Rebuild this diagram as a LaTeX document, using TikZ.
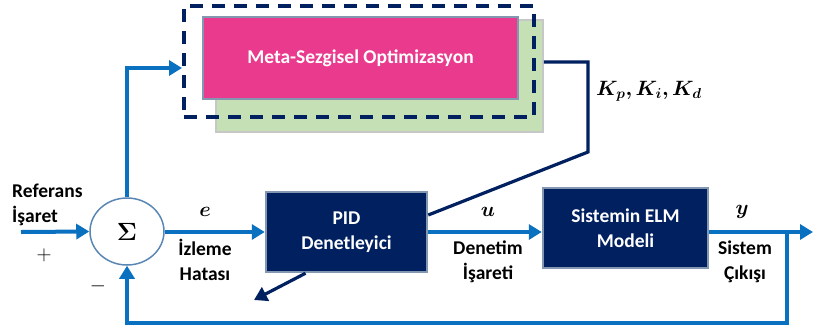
\documentclass[tikz,border=0pt]{standalone}
\usepackage{fontspec}
\usepackage{amsmath,bm}
\setmainfont{Carlito}
\usetikzlibrary{arrows.meta,shapes.geometric}
\definecolor{sigblue}{HTML}{0A70C0}
\definecolor{navy}{HTML}{002060}
\definecolor{rimgray}{HTML}{8497B0}
\definecolor{metapink}{HTML}{EA3A8E}
\definecolor{shadegreen}{HTML}{C5E0B4}
\definecolor{circrim}{HTML}{5A86B4}
\tikzset{
  sig/.style={draw=sigblue, line width=4pt, -{Triangle[length=13pt,width=15pt]}},
  navyline/.style={draw=navy, line width=3.2pt},
  blockbox/.style={rectangle, fill=navy, draw=rimgray, line width=2.5pt, text=white,
    font=\fontsize{19.5}{25}\selectfont\bfseries, align=center},
  lbl/.style={font=\fontsize{19.5}{25}\selectfont\bfseries, text=black, inner sep=0pt},
  mathlbl/.style={font=\fontsize{21}{22}\selectfont, inner sep=0pt},
}
\begin{document}
\begin{tikzpicture}[x=1pt,y=-1pt]
\useasboundingbox (0,0) rectangle (813,332);

% optimisation block with its shadow and dashed frame
\node[rectangle, fill=shadegreen, draw=black!22, line width=1.5pt,
  minimum width=327pt, minimum height=112pt] (green) at (379.5,76) {};
\node[rectangle, fill=metapink, draw=rimgray, line width=2.5pt,
  minimum width=315pt, minimum height=82pt, text=white,
  font=\fontsize{19.5}{24}\selectfont\bfseries] (meta) at (360.5,58) {Meta-Sezgisel Optimizasyon};
\node[rectangle, draw=navy, line width=4pt, dash pattern=on 13pt off 9pt,
  minimum width=350pt, minimum height=111pt] (frame) at (359,61.5) {};

% summing junction
\node[ellipse, draw=circrim, line width=1.5pt, fill=white,
  minimum width=74pt, minimum height=67pt, inner sep=0pt] (sum) at (127,231.5)
  {\fontsize{23}{23}\selectfont$\bm{\Sigma}$};

% controller and plant model
\node[blockbox, minimum width=161pt, minimum height=80pt] (pid) at (346.5,232) {PID\\Denetleyici};
\node[blockbox, minimum width=165pt, minimum height=80pt] (elm) at (625.5,228) {Sistemin ELM\\Modeli};

% helper points
\coordinate (in) at (21,232);
\coordinate (up) at (127,68);
\coordinate (k1) at (588,62);
\coordinate (k2) at (588,152);
\coordinate (fb) at (254,300);
\coordinate (br) at (787,232);
\coordinate (out) at (813,232);
\coordinate (bl) at (127,323);

% signal paths
\draw[sig] (in) -- (sum.west);
\draw[sig] (sum.north) -- (up) -- ([yshift=-6.5pt]frame.west);
\draw[sig] (sum.east |- pid.west) -- (pid.west);
\draw[sig] (pid.east) -- (pid.east -| elm.west);
\draw[sig] (elm.east |- br) -- (out);
\draw[sig] (br) -- (br |- bl) -- (bl) -- (sum.south);

% gain update path
\draw[navyline] (green.east |- k1) -- (k1) -- (k2) -- ([yshift=17pt]pid.east);
\draw[navyline, -{Triangle[length=13pt,width=15pt]}] ([xshift=-41pt]pid.south) -- (fb);

% labels
\node[lbl, anchor=west] at (12,191) {Referans};
\node[lbl, anchor=west] at (12,216) {İşaret};
\node[mathlbl] at (44,255) {$+$};
\node[mathlbl] at (98,286) {$-$};
\node[mathlbl] at (205,212) {$\bm{e}$};
\node[lbl, align=center] at (205,260) {İzleme\\Hatası};
\node[mathlbl] at (488,212) {$\bm{u}$};
\node[lbl, align=center] at (488,262) {Denetim\\İşareti};
\node[mathlbl] at (742,212) {$\bm{y}$};
\node[lbl, align=center] at (745,262) {Sistem\\Çıkışı};
\node[mathlbl, anchor=west] at (596,91) {\fontsize{21.5}{22}\selectfont$\bm{K_p, K_i, K_d}$};
\end{tikzpicture}
\end{document}
